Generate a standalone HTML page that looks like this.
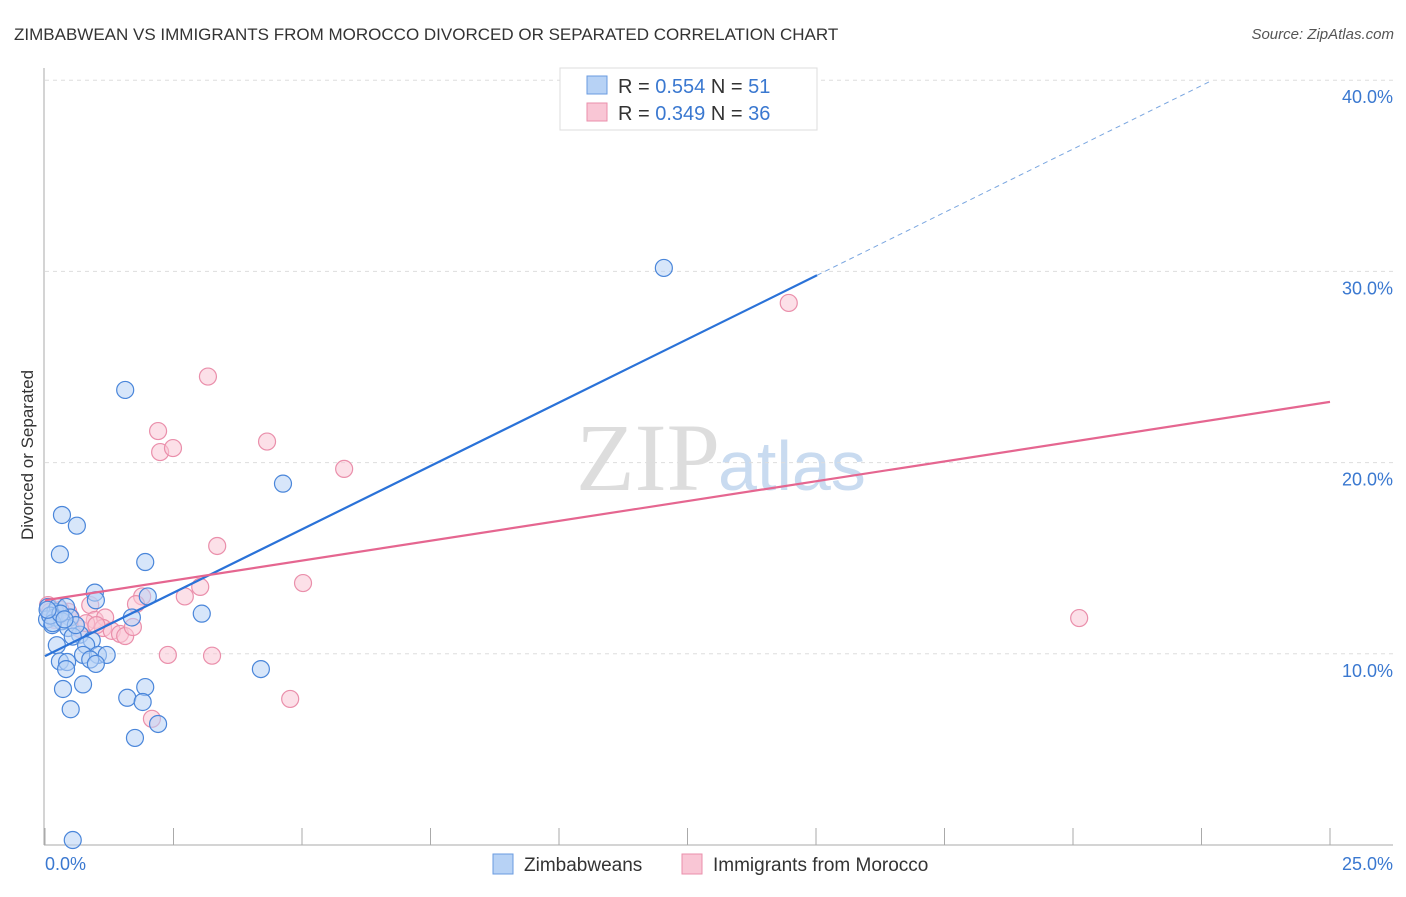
<!DOCTYPE html>
<html><head><meta charset="utf-8"><style>
body{margin:0;background:#fff;font-family:"Liberation Sans",sans-serif}
</style></head><body>
<svg id="c" width="1406" height="892" font-family="Liberation Sans, sans-serif">
<text x="14" y="40" font-size="17" fill="#333">ZIMBABWEAN VS IMMIGRANTS FROM MOROCCO DIVORCED OR SEPARATED CORRELATION CHART</text>
<text x="1394" y="39" font-size="15" fill="#555" text-anchor="end" font-style="italic">Source: ZipAtlas.com</text>
<text x="720" y="490" font-size="96" fill="#ddd" text-anchor="end" font-family="Liberation Serif, serif">ZIP</text>
<text x="718" y="490" font-size="70" fill="#c9dbf0">atlas</text>
<g id="grid"></g>
<g id="pts"></g>
<g id="lines"></g>
<text transform="translate(33,455) rotate(-90)" font-size="17" fill="#333" text-anchor="middle">Divorced or Separated</text>
<text x="45" y="870" font-size="18" fill="#3a78d0">0.0%</text>
<text x="1393" y="870" font-size="18" fill="#3a78d0" text-anchor="end">25.0%</text>
<g>
<rect x="560" y="68" width="257" height="62" fill="#fff" stroke="#ddd"/>
<rect x="587" y="76" width="20" height="18" fill="#b7d2f5" stroke="#6a9be0"/>
<rect x="587" y="103" width="20" height="18" fill="#f9c6d5" stroke="#ea8fab"/>
<text x="618" y="93" font-size="20" fill="#333">R = <tspan fill="#3a78d0">0.554</tspan>   N = <tspan fill="#3a78d0">51</tspan></text>
<text x="618" y="120" font-size="20" fill="#333">R = <tspan fill="#3a78d0">0.349</tspan>   N = <tspan fill="#3a78d0">36</tspan></text>
</g>
<g>
<rect x="493" y="854" width="20" height="20" fill="#b7d2f5" stroke="#6a9be0"/>
<text x="524" y="871" font-size="19" fill="#333">Zimbabweans</text>
<rect x="682" y="854" width="20" height="20" fill="#f9c6d5" stroke="#ea8fab"/>
<text x="713" y="871" font-size="19" fill="#333">Immigrants from Morocco</text>
</g>
</svg>
<script>
const blueX=[12.04,1.56,4.63,0.33,0.62,0.29,1.95,0.97,0.99,2.0,3.05,1.69,0.06,0.2,0.25,0.04,0.19,0.41,0.49,0.33,0.14,0.45,0.68,0.54,0.91,0.8,0.23,0.74,1.03,1.2,0.88,0.29,0.43,0.41,0.99,4.2,0.74,0.35,1.6,1.95,1.9,0.5,2.2,1.75,0.54,0.1,0.15,0.3,0.6,0.05,0.38];
const blueY=[30.18,23.8,18.9,17.26,16.7,15.2,14.8,13.2,12.8,13.0,12.1,11.9,12.45,12.2,12.45,11.8,11.9,12.45,11.9,11.7,11.5,11.35,11.0,10.9,10.7,10.45,10.45,9.94,9.94,9.94,9.7,9.6,9.57,9.2,9.47,9.2,8.4,8.16,7.7,8.26,7.48,7.1,6.33,5.6,0.26,12.0,11.6,12.1,11.5,12.3,11.8];
const pinkX=[14.47,3.17,2.2,2.24,2.49,4.32,5.82,3.35,5.02,20.12,3.02,2.72,1.89,1.77,0.88,0.06,0.45,0.97,1.17,1.13,1.3,1.46,1.56,1.71,0.68,0.19,2.39,3.25,4.77,2.08,0.1,0.29,0.5,0.8,1.0,0.3];
const pinkY=[28.35,24.5,21.65,20.55,20.76,21.1,19.67,15.64,13.7,11.87,13.5,13.0,13.0,12.6,12.55,12.55,12.2,11.77,11.9,11.35,11.2,11.04,10.93,11.4,11.3,11.77,9.94,9.9,7.64,6.6,12.2,12.0,11.9,11.6,11.5,12.3];
const blueFit=[9.88,1.326];
const pinkFit=[12.8,0.415];
const yTicks=[10,20,30,40];
const yTickLabels=["10.0%","20.0%","30.0%","40.0%"];
const xTicks=[0,2.5,5,7.5,10,12.5,15,17.5,20,22.5,25];
const NS='http://www.w3.org/2000/svg';
const sx=v=>45+v*51.4, sy=v=>845-v*19.12;
function mk(t,a,p){const e=document.createElementNS(NS,t);for(const k in a)e.setAttribute(k,a[k]);p.appendChild(e);return e;}
const grid=document.getElementById('grid'),pts=document.getElementById('pts'),lines=document.getElementById('lines');
mk('line',{x1:44,y1:68,x2:44,y2:845,stroke:'#aaa'},grid);
mk('line',{x1:44,y1:845,x2:1393,y2:845,stroke:'#aaa'},grid);
yTicks.forEach((t,i)=>{
 const g=mk('line',{x1:45,x2:1393,y1:sy(t),y2:sy(t),stroke:'#ddd','stroke-dasharray':'4,4'},grid);
 
 
 const tx=mk('text',{x:1393,y:sy(t)+23,'font-size':18,fill:'#3a78d0','text-anchor':'end'},grid);
 tx.textContent=yTickLabels[i];
 
 
});
xTicks.forEach(t=>{
 const l=mk('line',{x1:sx(t),x2:sx(t),y1:828,y2:845,stroke:'#aaa'},grid);
 
 
});
function dots(X,Y,f,s,n){X.forEach((x,i)=>{const c=mk('circle',{cx:sx(x),cy:sy(Y[i]),r:8.5,fill:f,'fill-opacity':0.55,stroke:s,'stroke-width':1.2},pts);
 
 });}
dots(pinkX,pinkY,'#f9c6d5','#ea8fab','morocco-point');
dots(blueX,blueY,'#b7d2f5','#4a86da','zimbabwean-point');
let l=mk('line',{x1:sx(0),y1:sy(blueFit[0]),x2:sx(15.02),y2:sy(blueFit[0]+blueFit[1]*15.02),stroke:'#2a72d8','stroke-width':2.2},lines);


const xe=(40-blueFit[0])/blueFit[1];
l=mk('line',{x1:sx(15.02),y1:sy(blueFit[0]+blueFit[1]*15.02),x2:sx(xe),y2:sy(40),stroke:'#7aa6e0','stroke-width':1,'stroke-dasharray':'5,4'},lines);


l=mk('line',{x1:sx(0),y1:sy(pinkFit[0]),x2:sx(25),y2:sy(pinkFit[0]+pinkFit[1]*25),stroke:'#e56690','stroke-width':2.2},lines);


</script>
</body></html>
